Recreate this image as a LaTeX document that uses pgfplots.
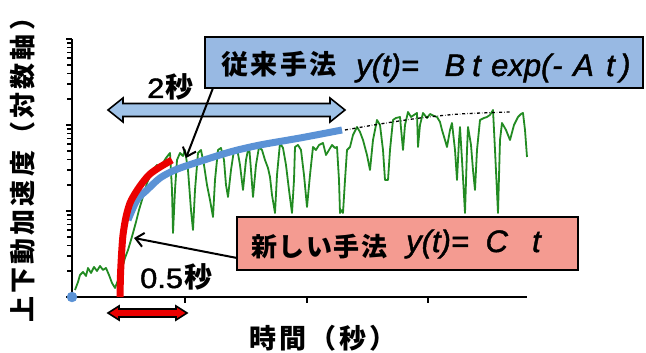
\documentclass[border=0pt]{standalone}
\usepackage{fontspec}
\setmainfont{Liberation Sans}
\newfontfamily\jp{Noto Sans CJK JP}
\newfontfamily\latit{Liberation Sans Italic}[FakeBold=1.5]
\newfontfamily\latup{Liberation Sans}[FakeBold=1.5]
\usepackage{pgfplots}
\usepackage{pgfplotstable}
\pgfplotsset{compat=1.18}
\usetikzlibrary{arrows.meta}
\definecolor{grn}{RGB}{34,139,34}
\definecolor{bcurve}{RGB}{91,146,213}
\definecolor{rcurve}{RGB}{235,0,0}
\definecolor{bbox}{RGB}{152,185,227}
\definecolor{rbox}{RGB}{244,155,145}
\definecolor{barrow}{RGB}{160,195,232}

% measured acceleration (x: time axis units, y: log-axis units, 86 per decade)
\pgfplotstableread{
x y
3 7
6 15
8 22
11 25
14 21
16 29
19 24
22 30
25 26
28 31
31 27
34 29
37 22
40 14
43 9
48 22
53 39
56 47
59 57
61 64
64 75
67 87
70 97
73 107
75 114
78 121
81 127
85 132
88 129
91 134
94 139
98 144
100 107
101 64
103 107
105 137
108 144
111 141
113 147
116 127
119 87
121 67
123 107
126 144
129 147
132 132
135 112
138 97
141 80
143 117
146 147
149 149
152 137
154 112
156 100
159 127
162 147
165 149
168 132
171 107
174 137
177 152
179 127
181 100
184 132
187 150
190 147
193 137
196 129
198 120
200 102
203 84
205 122
208 154
211 149
214 132
217 107
220 84
222 117
223 150
226 152
229 147
232 122
235 90
238 122
241 150
244 147
247 152
251 154
254 142
257 147
260 152
263 149
265 150
267 117
268 84
270 87
271 84
273 117
275 147
278 150
281 162
285 170
288 165
291 157
295 142
298 127
301 157
305 177
308 172
311 147
313 117
316 117
318 147
321 177
324 179
328 180
331 147
333 172
336 185
339 180
342 182
345 184
346 150
348 172
351 184
355 179
358 183
362 181
365 180
368 175
370 167
373 157
375 150
378 167
380 174
383 147
385 117
387 157
388 170
390 137
393 84
395 147
396 170
399 152
401 127
403 107
405 147
408 177
412 179
415 180
418 182
421 187
423 147
426 84
428 157
430 174
434 167
438 157
442 172
446 180
449 183
451 184
453 167
455 140
}\greendata

\begin{document}
\begin{tikzpicture}[x=1pt,y=1pt]
\useasboundingbox (0,0) rectangle (646,353);
\begin{axis}[
  at={(72,56)}, anchor=south west,
  scale only axis, width=455pt, height=258pt,
  xmin=0, xmax=455, ymin=0, ymax=258,
  axis x line*=bottom, axis y line*=left,
  axis line style={-, line width=2.6pt, black},
  xtick={113,235,356}, xticklabels={},
  ytick={0,86,172,258}, yticklabels={},
  minor ytick={25.9,41.0,51.8,60.1,66.9,72.7,77.7,82.1,
               111.9,127.0,137.8,146.1,152.9,158.7,163.7,168.1,
               197.9,213.0,223.8,232.1,238.9,244.7,249.7,254.1},
  tick align=outside,
  major tick length=6pt, minor tick length=5pt,
  every tick/.style={black, line width=1.3pt},
  clip=false,
]
\addplot[grn, line width=1.8pt, line join=round] table {\greendata};
\addplot[bcurve, line width=7pt, smooth] coordinates {
(56,77) (65,97) (75,107) (88,119) (103,127) (123,134) (158,145) (188,152) (228,159) (270,167)};
\addplot[rcurve, line width=7pt, smooth] coordinates {
(48,0) (48.5,22) (49.5,42) (51,62) (54,80) (58,94) (64,105) (71,115) (78,123) (88,130) (100,137)};
\addplot[black, dash dot, line width=1.3pt, smooth] coordinates {
(273,167) (308,173) (348,179) (388,183) (438,185)};
\addplot[only marks, mark=*, mark size=5pt, mark options={fill=bcurve, draw=bcurve}] coordinates {(0,0)};
\end{axis}

% double arrows
\draw[line width=1.6pt, fill=barrow, line join=miter]
  (108,243)--(123,255)--(123,249.5)--(330,249.5)--(330,255)--(345,243)--(330,231)--(330,236.5)--(123,236.5)--(123,231)--cycle;
\draw[line width=1.6pt, fill=rcurve, line join=miter]
  (108,40)--(119,47)--(119,44)--(176,44)--(176,47)--(187,40)--(176,33)--(176,36)--(119,36)--(119,33)--cycle;

% boxes
\draw[line width=1.8pt, fill=bbox] (205,265) rectangle (643,316);
\draw[line width=1.8pt, fill=rbox] (237,83) rectangle (578,136);

% pointer arrows
\draw[line width=2pt, -{Straight Barb[length=8pt,width=14pt]}] (213,265) -- (186,195);
\draw[line width=2pt, -{Straight Barb[length=8pt,width=14pt]}] (237,95) -- (134,115);

% box texts
\node[anchor=west, inner sep=0, font=\jp\bfseries\fontsize{27}{27}\selectfont] at (221,288.5) {従\kern2.5pt来\kern2.5pt手\kern2.5pt法};
\node[anchor=base west, inner sep=0, font=\latit\fontsize{31}{31}\selectfont] at (356,277)
  {y(t)=\hspace{25.6pt}B\hspace{6.8pt}t\hspace{10.4pt}exp(\hspace{0.7pt}-\hspace{10.7pt}A\hspace{12.3pt}t\hspace{5.4pt})};
\node[anchor=west, inner sep=0, font=\jp\bfseries\fontsize{26}{26}\selectfont] at (251,106.5) {新\kern1.5ptし\kern1.5ptい\kern1.5pt手\kern1.5pt法};
\node[anchor=base west, inner sep=0, font=\latit\fontsize{31}{31}\selectfont] at (406,101)
  {y(t)=\hspace{16.5pt}C\hspace{24.2pt}t};

% span labels
\node[anchor=base west, inner sep=0] at (147,255) {\latup\fontsize{28}{28}\selectfont\scalebox{1.1}[1]{2}\kern1pt{\jp\bfseries 秒}};
\node[anchor=base west, inner sep=0] at (140,65) {\latup\fontsize{28}{28}\selectfont\scalebox{1.1}[1]{0.5}\kern1pt{\jp\bfseries 秒}};

% axis labels
\node[rotate=90, anchor=west, inner sep=0, font=\jp\bfseries\fontsize{26}{26}\selectfont] at (23,30)
  {上\kern3.2pt下\kern3.2pt動\kern3.2pt加\kern3.2pt速\kern3.2pt度\kern3.2pt（\kern3.2pt対\kern3.2pt数\kern3.2pt軸\kern3.2pt）};
\node[anchor=west, inner sep=0, font=\jp\bfseries\fontsize{27}{27}\selectfont] at (249,15)
  {時\kern3pt間\kern3pt（\kern3pt秒\kern3pt）};
\end{tikzpicture}
\end{document}
